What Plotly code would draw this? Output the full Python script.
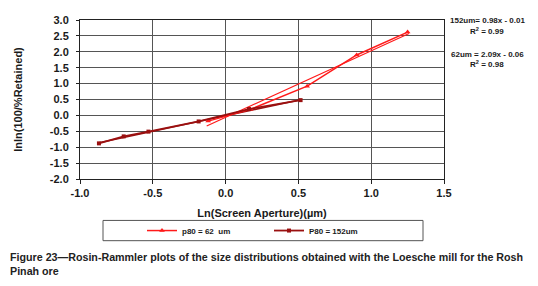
import plotly.graph_objects as go

# Data
x_62 = [-0.12, 0.17, 0.56, 0.90, 1.25]
y_62 = [-0.18, 0.19, 0.92, 1.90, 2.62]
x_152 = [-0.87, -0.70, -0.53, -0.185, 0.16, 0.515]
y_152 = [-0.88, -0.66, -0.51, -0.19, 0.20, 0.48]

# Trendline equations shown on chart
fit_62 = (2.09, -0.06)
fit_152 = (0.98, -0.01)

x_ticks = [-1.0, -0.5, 0.0, 0.5, 1.0, 1.5]
y_ticks = [-2.0, -1.5, -1.0, -0.5, 0.0, 0.5, 1.0, 1.5, 2.0, 2.5, 3.0]

RED = "#FF1A1A"
DARK = "#9A1010"
FONT = "Liberation Sans"
TXT = "#1a1a1a"

# page layout (page pixels; the figure is drawn with an 8px page offset)
OFF = 8
PL, PR, PT, PB = 80, 444, 14, 179
W, H = 538 - OFF, 286 - OFF


def px(x):
    return (x - PL) / (PR - PL)


def py(y):
    return (PB - y) / (PB - PT)


fig = go.Figure()

# trendlines
tx62 = [-0.13, 1.26]
fig.add_trace(go.Scatter(x=tx62, y=[fit_62[0] * v + fit_62[1] for v in tx62], mode="lines",
                         line=dict(color=RED, width=1.2), showlegend=False, hoverinfo="skip"))
tx152 = [min(x_152), max(x_152)]
fig.add_trace(go.Scatter(x=tx152, y=[fit_152[0] * v + fit_152[1] for v in tx152], mode="lines",
                         line=dict(color=DARK, width=1.5), showlegend=False, hoverinfo="skip"))

fig.add_trace(go.Scatter(x=x_62, y=y_62, mode="lines+markers", name="<b>p80 = 62  um</b>",
                         line=dict(color=RED, width=1.5),
                         marker=dict(symbol="triangle-up", size=5, color=RED)))
fig.add_trace(go.Scatter(x=x_152, y=y_152, mode="lines+markers", name="<b>P80 = 152um</b>",
                         line=dict(color=DARK, width=1.8),
                         marker=dict(symbol="square", size=4, color=DARK)))

fig.update_xaxes(range=[-1.0, 1.5], tickvals=x_ticks, ticktext=[f"<b>{v:.1f}</b>" for v in x_ticks],
                 showgrid=True, gridcolor="#555555", gridwidth=1, zeroline=False,
                 showline=True, linecolor="#222222", linewidth=1, mirror=True,
                 ticks="outside", ticklen=4, tickcolor="#222222", ticklabeloverflow="allow",
                 tickfont=dict(family=FONT, size=11, color=TXT),
                 title=dict(text="<b>Ln(Screen Aperture)(µm)</b>", font=dict(family=FONT, size=11, color=TXT), standoff=11))
fig.update_yaxes(range=[-2.0, 3.0], tickvals=y_ticks, ticktext=[f"<b>{v:.1f}</b>" for v in y_ticks],
                 showgrid=True, gridcolor="#555555", gridwidth=1, zeroline=False,
                 showline=True, linecolor="#222222", linewidth=1, mirror=True,
                 ticks="outside", ticklen=3, tickcolor="#222222", ticklabelstandoff=5,
                 ticklabeloverflow="allow",
                 tickfont=dict(family=FONT, size=11, color=TXT),
                 title=dict(text="<b>lnln(100/%Retained)</b>", font=dict(family=FONT, size=11, color=TXT), standoff=24))

# Legend box
fig.add_shape(type="rect", xref="paper", yref="paper", x0=px(103), x1=px(423), y0=py(243), y1=py(222),
              line=dict(color="#555555", width=1), fillcolor="white")

ann_font = dict(family=FONT, size=8, color=TXT)
for txt, ypos in [("<b>152um= 0.98x - 0.01</b>", 15), ("<b>R<sup>2</sup> = 0.99</b>", 25),
                  ("<b>62um = 2.09x - 0.06</b>", 50), ("<b>R<sup>2</sup> = 0.98</b>", 60)]:
    fig.add_annotation(xref="paper", yref="paper", x=px(487), y=py(ypos), text=txt,
                       showarrow=False, font=ann_font, xanchor="center", yanchor="middle")

fig.add_annotation(xref="paper", yref="paper", x=px(OFF), y=py(252),
                   text="<b>Figure 23—Rosin-Rammler plots of the size distributions obtained with the Loesche mill for the Rosh</b><br><b>Pinah ore</b>",
                   showarrow=False, align="left", xanchor="left", yanchor="top",
                   font=dict(family=FONT, size=10.7, color="#222222"))

fig.update_layout(
    width=W, height=H,
    margin=dict(l=PL - OFF, r=W - (PR - OFF), t=PT - OFF, b=H - (PB - OFF)),
    plot_bgcolor="white", paper_bgcolor="white",
    showlegend=True,
    legend=dict(orientation="h", x=px(142), y=py(232.5), xanchor="left", yanchor="middle",
                font=dict(family=FONT, size=8, color=TXT), bgcolor="rgba(0,0,0,0)",
                itemwidth=30, entrywidth=82, tracegroupgap=0),
)

fig.write_html("out.html")
